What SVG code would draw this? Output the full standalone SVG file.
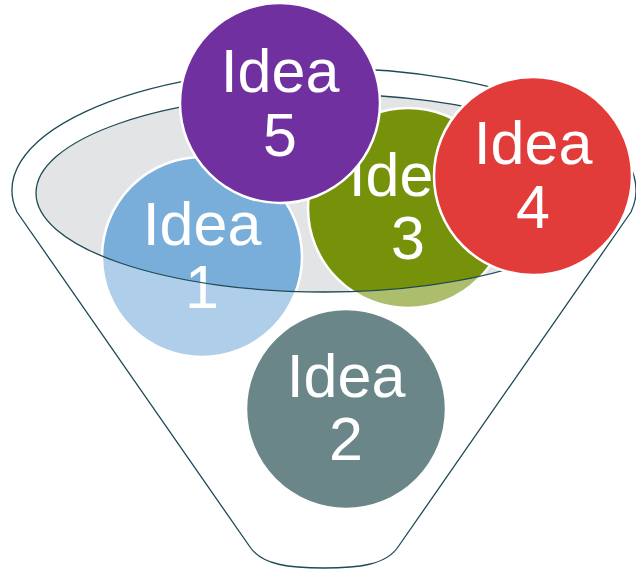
<svg xmlns="http://www.w3.org/2000/svg" width="636" height="573" viewBox="0 0 636 573">
<style>
.ln{fill:none;stroke:#1E4A55;stroke-width:1.3}
.c{stroke:#FFFFFF;stroke-width:2.5}
.t{font-family:"Liberation Sans",Arial,sans-serif;font-size:61px;fill:#FFFFFF;text-anchor:middle}
</style>
<rect width="636" height="573" fill="#FFFFFF"/>
<g id="funnel-back">
<ellipse cx="324" cy="193" rx="288" ry="99" fill="#E3E4E6"/>
</g>
<g id="idea1">
<circle class="c" cx="202" cy="257" r="100" fill="#79AEDB"/>
<text class="t" x="202" y="245">Idea</text>
<text class="t" x="202" y="308">1</text>
</g>
<g id="idea3">
<circle class="c" cx="408" cy="208" r="100" fill="#76910A"/>
<text class="t" x="408" y="196">Idea</text>
<text class="t" x="408" y="259">3</text>
</g>
<g id="funnel">
<path fill="#FFFFFF" fill-opacity="0.4" fill-rule="evenodd" d="M17,212 A312,122 0 1 1 631,212 L398,547 C386,565 358,568 324,568 C290,568 262,565 250,547 Z M36,193 A288,99 0 1 0 612,193 A288,99 0 1 0 36,193 Z"/>
<path class="ln" d="M17,212 A312,122 0 1 1 631,212 L398,547 C386,565 358,568 324,568 C290,568 262,565 250,547 Z"/>
<ellipse class="ln" cx="324" cy="193" rx="288" ry="99"/>
</g>
<g id="idea2">
<circle class="c" cx="346" cy="409" r="100" fill="#6B8689"/>
<text class="t" x="346" y="397">Idea</text>
<text class="t" x="346" y="460">2</text>
</g>
<g id="idea5">
<circle class="c" cx="280" cy="103" r="100" fill="#7030A0"/>
<text class="t" x="280" y="92">Idea</text>
<text class="t" x="280" y="156">5</text>
</g>
<g id="idea4">
<circle class="c" cx="533" cy="176" r="99" fill="#E23C3A"/>
<text class="t" x="533" y="164">Idea</text>
<text class="t" x="533" y="228">4</text>
</g>
</svg>
